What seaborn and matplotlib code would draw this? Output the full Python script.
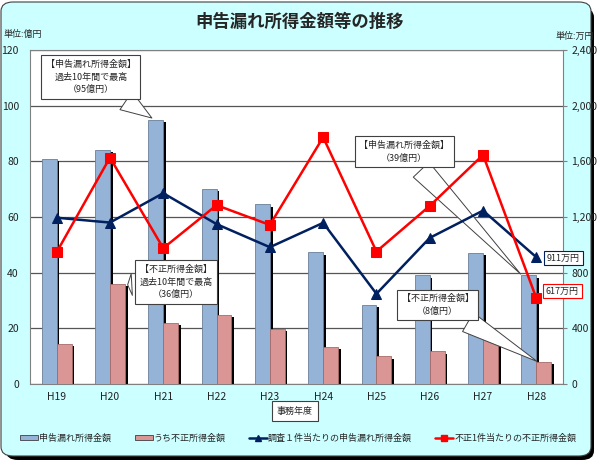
import matplotlib.pyplot as plt
import seaborn as sns
import pandas as pd
import numpy as np
from matplotlib.patches import FancyBboxPatch, Rectangle, Patch
from matplotlib.lines import Line2D

# data
years = ['H19', 'H20', 'H21', 'H22', 'H23', 'H24', 'H25', 'H26', 'H27', 'H28']
omission_total = [81, 84, 95, 70, 64.5, 47.3, 28.3, 39, 47.1, 39]      # 億円
fraud_total = [14.5, 36, 22, 24.7, 19.9, 13.2, 9.9, 11.7, 16.5, 8]       # 億円
omission_per_case = [1195, 1160, 1371, 1149, 983, 1158, 648, 1050, 1246, 911]  # 万円
fraud_per_case = [947, 1627, 976, 1285, 1143, 1773, 952, 1280, 1646, 617]      # 万円

bar_labels = ['申告漏れ所得金額', 'うち不正所得金額']
line_labels = ['調査１件当たりの申告漏れ所得金額', '不正1件当たりの不正所得金額']

BLUE = '#95B3D7'
PINK = '#D99694'
NAVY = '#002060'
RED = '#FF0000'
CYAN = '#CCFFFF'

sns.set_style('white')
plt.rcParams['font.family'] = ['Noto Sans CJK JP', 'DejaVu Sans']

df = pd.DataFrame({
    'year': years * 2,
    'value': omission_total + fraud_total,
    'kind': [bar_labels[0]] * len(years) + [bar_labels[1]] * len(years),
})

fig = plt.figure(figsize=(6, 4.62), dpi=100)
fig.patch.set_facecolor('white')

# rounded cyan background with shadow
fig.patches.append(FancyBboxPatch((6 / 600, 2 / 462), 588 / 600, 452 / 462,
                                  boxstyle='round,pad=0,rounding_size=0.02',
                                  transform=fig.transFigure, fc='black', ec='none', zorder=-3))
fig.patches.append(FancyBboxPatch((1 / 600, 6 / 462), 590 / 600, 454 / 462,
                                  boxstyle='round,pad=0,rounding_size=0.02',
                                  transform=fig.transFigure, fc=CYAN, ec='#404040', lw=0.8, zorder=-2))

ax = fig.add_axes([30 / 600, 1 - 384 / 462, 533 / 600, 334 / 462])
ax.set_facecolor('white')

sns.barplot(data=df, x='year', y='value', hue='kind', palette=[BLUE, PINK],
            width=0.56, saturation=1, edgecolor='#6A7F9A', linewidth=0.6,
            legend=False, ax=ax, zorder=3)

# drop shadows behind bars
for p in list(ax.patches):
    x, w, h = p.get_x(), p.get_width(), p.get_height()
    if h <= 0:
        continue
    ax.add_patch(Rectangle((x + w, 0), 0.05, h - 0.8, fc='black', ec='none', zorder=2))
# darker edge for pink bars
for p in ax.patches[len(years):2 * len(years)]:
    p.set_edgecolor('#A86B69')

ax.set_xlim(-0.5, 9.5)
ax.set_ylim(0, 120)
ax.set_yticks(np.arange(0, 121, 20))
ax.yaxis.grid(True, color='#555555', lw=0.9, zorder=0)
ax.set_axisbelow(True)
ax.set_xlabel('')
ax.set_ylabel('')
ax.tick_params(axis='y', length=0, pad=8, labelsize=7.5, colors='#222222')
ax.tick_params(axis='x', length=0, pad=6, labelsize=7.5, colors='#222222')
ax.set_xticks(np.arange(-0.5, 10, 1), minor=True)
ax.tick_params(axis='x', which='minor', length=3, direction='out', color='#808080')
for s in ax.spines.values():
    s.set_color('#808080')
    s.set_linewidth(0.8)

ax2 = ax.twinx()
ax2.set_ylim(0, 2400)
ax2.set_yticks(np.arange(0, 2401, 400))
ax2.set_yticklabels([f'{v:,}' for v in range(0, 2401, 400)])
ax2.tick_params(axis='y', length=3, pad=3, labelsize=7.5, colors='#222222', color='#808080')
for s in ax2.spines.values():
    s.set_visible(False)

xs = np.arange(len(years))
sns.lineplot(x=xs, y=omission_per_case, color=NAVY, lw=1.8, marker='^', markersize=7,
             markeredgecolor=NAVY, ax=ax2, zorder=5)
sns.lineplot(x=xs, y=fraud_per_case, color=RED, lw=1.8, marker='s', markersize=6.5,
             markeredgecolor=RED, ax=ax2, zorder=6)
ax2.set_xlim(-0.5, 9.5)

# callouts
box = dict(boxstyle='square,pad=0.5', fc='white', ec='#404040', lw=0.8)
wedge = dict(arrowstyle='wedge,tail_width=2.4,shrink_factor=0.5', fc='white', ec='#404040', lw=0.7)
kw = dict(fontsize=6.5, ha='center', va='center', linespacing=1.5, zorder=10, annotation_clip=False)

ax.annotate('【申告漏れ所得金額】\n過去10年間で最高\n（95億円）', xy=(1.83, 95), xytext=(0.64, 110.3),
            bbox=box, arrowprops=wedge, **kw)
ax.annotate('【不正所得金額】\n過去10年間で最高\n（36億円）', xy=(1.28, 35.6), xytext=(2.24, 36.6),
            bbox=box, arrowprops=wedge, **kw)
ax.annotate('【申告漏れ所得金額】\n（39億円）', xy=(8.74, 38.8), xytext=(6.52, 83.4),
            bbox=box, arrowprops=wedge, **kw)
ax.annotate('【不正所得金額】\n（8億円）', xy=(9.06, 7.6), xytext=(7.15, 28.4),
            bbox=box, arrowprops=wedge, **kw)

ax.text(9.2, 45.2, f'{omission_per_case[-1]}万円', fontsize=6.5, ha='left', va='center', zorder=10,
        clip_on=False, bbox=dict(boxstyle='square,pad=0.3', fc='white', ec=NAVY, lw=0.8))
ax.text(9.18, 33.4, f'{fraud_per_case[-1]}万円', fontsize=6.5, ha='left', va='center', zorder=10,
        clip_on=False, bbox=dict(boxstyle='square,pad=0.3', fc='white', ec=RED, lw=0.8))

# titles and unit labels
fig.text(0.5, 1 - 22 / 462, '申告漏れ所得金額等の推移', ha='center', va='center',
         fontsize=12.5, fontweight='bold')
fig.text(3 / 600, 1 - 34 / 462, '単位:億円', ha='left', va='center', fontsize=6.5)
fig.text(594 / 600, 1 - 36 / 462, '単位:万円', ha='right', va='center', fontsize=6.5)
fig.text(295 / 600, 1 - 411 / 462, '事務年度', ha='center', va='center', fontsize=6.5,
         bbox=dict(boxstyle='square,pad=0.6', fc='white', ec='#404040', lw=0.8))

handles = [
    Patch(fc=BLUE, ec='#404040', lw=0.6),
    Patch(fc=PINK, ec='#404040', lw=0.6),
    Line2D([], [], color=NAVY, lw=1.8, marker='^', markersize=5),
    Line2D([], [], color=RED, lw=1.8, marker='s', markersize=4.5),
]
fig.legend(handles, bar_labels + line_labels, loc='center', bbox_to_anchor=(0.497, 1 - 438 / 462),
           ncol=4, frameon=False, fontsize=6.5, handlelength=2.0, handleheight=0.6,
           handletextpad=0.1, columnspacing=2.6)

fig.savefig('out.png', dpi=100)
